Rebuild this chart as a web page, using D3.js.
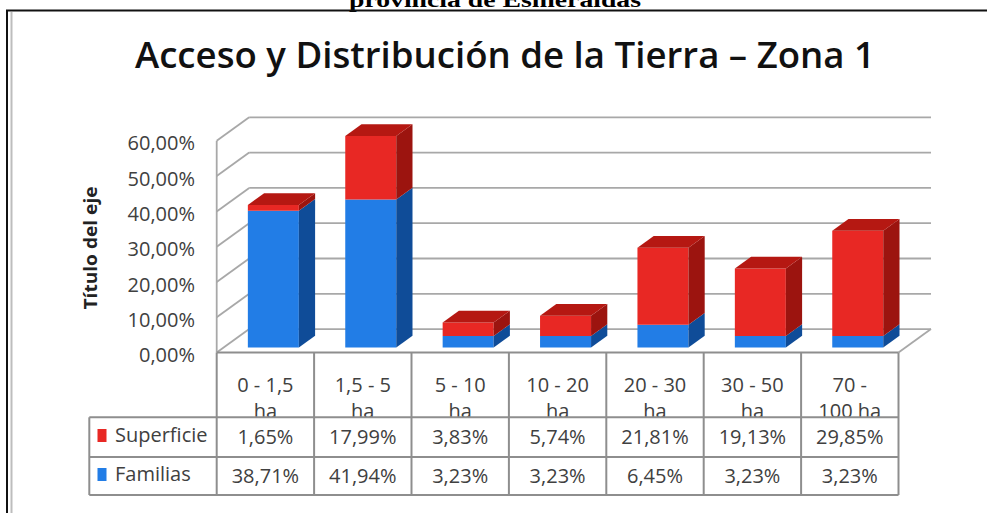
<!doctype html>
<html lang="es">
<head>
  <meta charset="utf-8">
  <title>Acceso y Distribución de la Tierra – Zona 1</title>
  <script src="https://d3js.org/d3.v7.min.js"></script>
  <style>
    body { margin: 0; background: #fff; }
    text { font-family: "Open Sans", sans-serif; }
  </style>
</head>
<body>
  <div id="chart"></div>
  <script type="text/javascript">

    var width = 987, height = 513;

    // data
    var categories = ['0 - 1,5 ha', '1,5 - 5 ha', '5 - 10 ha', '10 - 20 ha', '20 - 30 ha', '30 - 50 ha', '70 - 100 ha'];
    var categoryLines = [['0 - 1,5', 'ha'], ['1,5 - 5', 'ha'], ['5 - 10', 'ha'], ['10 - 20', 'ha'],
                         ['20 - 30', 'ha'], ['30 - 50', 'ha'], ['70 -', '100 ha']];
    var superficie = [1.65, 17.99, 3.83, 5.74, 21.81, 19.13, 29.85];
    var familias = [38.71, 41.94, 3.23, 3.23, 6.45, 3.23, 3.23];
    var seriesNames = ['Familias', 'Superficie'];
    var yTicks = [0, 10, 20, 30, 40, 50, 60];

    var colors = {
      Familias:   { front: '#227de6', side: '#0f4c98', top: '#1a63bd' },
      Superficie: { front: '#e82824', side: '#9c140f', top: '#b51812' }
    };

    var locale = d3.formatLocale({ decimal: ',', thousands: '.', grouping: [3], currency: ['', ''] });
    var pct = function(v) { return locale.format('.2f')(v) + '%'; };

    var svg = d3.select('#chart')
                .append('svg')
                .attr('width', width)
                .attr('height', height);

    // page leftovers: caption above (cut by the page edge, as in the picture) and the frame
    svg.append('text')
       .attr('x', 495).attr('y', 7)
       .attr('text-anchor', 'middle')
       .style('font-family', '"Liberation Serif", serif')
       .style('font-weight', 'bold')
       .style('font-size', '22px')
       .attr('textLength', 292).attr('lengthAdjust', 'spacingAndGlyphs')
       .text('provincia de Esmeraldas');

    svg.append('line').attr('x1', 6).attr('x2', width).attr('y1', 10.5).attr('y2', 10.5)
       .attr('stroke', '#111').attr('stroke-width', 2);
    svg.append('line').attr('x1', 7).attr('x2', 7).attr('y1', 10).attr('y2', height)
       .attr('stroke', '#111').attr('stroke-width', 2);
    svg.append('line').attr('x1', 11.5).attr('x2', 11.5).attr('y1', 12).attr('y2', height)
       .attr('stroke', '#bdbdbd').attr('stroke-width', 2);

    // title
    svg.append('text')
       .attr('x', 505).attr('y', 68)
       .attr('text-anchor', 'middle')
       .style('font-size', '36px')
       .style('font-weight', 600)
       .attr('fill', '#111')
       .attr('textLength', 740).attr('lengthAdjust', 'spacingAndGlyphs')
       .text('Acceso y Distribución de la Tierra – Zona  1');

    // scales, plus the oblique depth offset of the 3D look
    var x = d3.scaleBand().domain(categories).range([216.7, 898.5]);
    var y = d3.scaleLinear().domain([0, 60]).range([352.6, 140.8]);
    var depth = { dx: 32.5, dy: 23.5 };
    function P(px, v, z) { return [px + z * depth.dx, y(v) - z * depth.dy]; }
    function poly(pts) { return 'M' + pts.map(function(p) { return p.join(','); }).join('L') + 'Z'; }

    var grid = svg.append('g').attr('fill', 'none').attr('stroke', '#a8a8a8').attr('stroke-width', 1.8);
    var x0 = x.range()[0], x1 = x.range()[1];

    // left wall front edge
    grid.append('line').attr('x1', x0).attr('x2', x0).attr('y1', y(0)).attr('y2', y(60));
    // wall diagonals and back wall gridlines
    yTicks.forEach(function(t) {
      var a = P(x0, t, 0), b = P(x0, t, 1), c = P(x1, t, 1);
      grid.append('line').attr('x1', a[0]).attr('y1', a[1]).attr('x2', b[0]).attr('y2', b[1]);
      grid.append('line').attr('x1', b[0]).attr('y1', b[1]).attr('x2', c[0]).attr('y2', c[1]);
    });
    // floor right edge
    var fr0 = P(x1, 0, 0), fr1 = P(x1, 0, 1);
    grid.append('line').attr('x1', fr0[0]).attr('y1', fr0[1]).attr('x2', fr1[0]).attr('y2', fr1[1]);

    // y tick labels
    svg.append('g').selectAll('text')
       .data(yTicks)
       .enter()
       .append('text')
       .attr('x', 195).attr('y', function(d) { return y(d) + 9.5; })
       .attr('text-anchor', 'end')
       .style('font-size', '20px')
       .attr('fill', '#404040')
       .text(pct);

    // axis title
    svg.append('text')
       .attr('transform', 'translate(97,248) rotate(-90)')
       .attr('text-anchor', 'middle')
       .style('font-size', '17px')
       .style('font-weight', 'bold')
       .attr('fill', '#222')
       .attr('textLength', 123).attr('lengthAdjust', 'spacingAndGlyphs')
       .text('Título del eje');

    // stacked 3D bars
    var rows = categories.map(function(c, i) { return { cat: c, Familias: familias[i], Superficie: superficie[i] }; });
    var stacked = d3.stack().keys(seriesNames)(rows);
    var barOffset = 24, barWidth = 51, z0 = 0.22, z1 = 0.72;

    var bars = svg.append('g');
    categories.forEach(function(c, i) {
      var bx0 = x(c) + barOffset, bx1 = bx0 + barWidth;
      stacked.forEach(function(s, si) {
        var v0 = s[i][0], v1 = s[i][1], col = colors[s.key];
        var g = bars.append('g');
        g.append('path').attr('fill', col.front)
         .attr('d', poly([P(bx0, v0, z0), P(bx1, v0, z0), P(bx1, v1, z0), P(bx0, v1, z0)]));
        g.append('path').attr('fill', col.side)
         .attr('d', poly([P(bx1, v0, z0), P(bx1, v0, z1), P(bx1, v1, z1), P(bx1, v1, z0)]));
        if (si === stacked.length - 1) {
          g.append('path').attr('fill', col.top)
           .attr('d', poly([P(bx0, v1, z0), P(bx1, v1, z0), P(bx1, v1, z1), P(bx0, v1, z1)]));
        }
      });
    });

    // data table under the chart
    var table = svg.append('g');
    var rowY = [y(0), 417.3, 457, 495];
    var legendLeft = 89.3;

    // header labels
    categories.forEach(function(c, i) {
      var cx = x(c) + x.bandwidth() / 2;
      categoryLines[i].forEach(function(line, li) {
        table.append('text')
             .attr('x', cx).attr('y', 392 + li * 26)
             .attr('text-anchor', 'middle')
             .style('font-size', '20px')
             .attr('fill', '#404040')
             .text(line);
      });
    });

    // value cells, Superficie row first as in the picture
    var tableRows = [{ name: 'Superficie', values: superficie, y: 444 },
                     { name: 'Familias', values: familias, y: 483 }];
    tableRows.forEach(function(r, ri) {
      categories.forEach(function(c, i) {
        table.append('text')
             .attr('x', x(c) + x.bandwidth() / 2).attr('y', r.y)
             .attr('text-anchor', 'middle')
             .style('font-size', '20px')
             .attr('fill', '#404040')
             .text(pct(r.values[i]));
      });
      table.append('rect')
           .attr('x', 97.5).attr('y', r.y - 15)
           .attr('width', 9).attr('height', 13)
           .attr('fill', colors[r.name].front);
      table.append('text')
           .attr('x', 115).attr('y', r.y - 2)
           .style('font-size', '20px')
           .attr('fill', '#404040')
           .text(r.name);
    });

    // table lines
    var tl = table.append('g').attr('stroke', '#8e8e8e').attr('stroke-width', 2).attr('fill', 'none');
    x.domain().forEach(function(c) {
      tl.append('line').attr('x1', x(c)).attr('x2', x(c)).attr('y1', rowY[0]).attr('y2', rowY[3]);
    });
    tl.append('line').attr('x1', x1).attr('x2', x1).attr('y1', rowY[0]).attr('y2', rowY[3]);
    tl.append('line').attr('x1', x0).attr('x2', x1).attr('y1', rowY[0]).attr('y2', rowY[0]);
    [1, 2, 3].forEach(function(k) {
      tl.append('line').attr('x1', legendLeft).attr('x2', x1).attr('y1', rowY[k]).attr('y2', rowY[k]);
    });
    tl.append('line').attr('x1', legendLeft).attr('x2', legendLeft).attr('y1', rowY[1]).attr('y2', rowY[3]);

  </script>
</body>
</html>
